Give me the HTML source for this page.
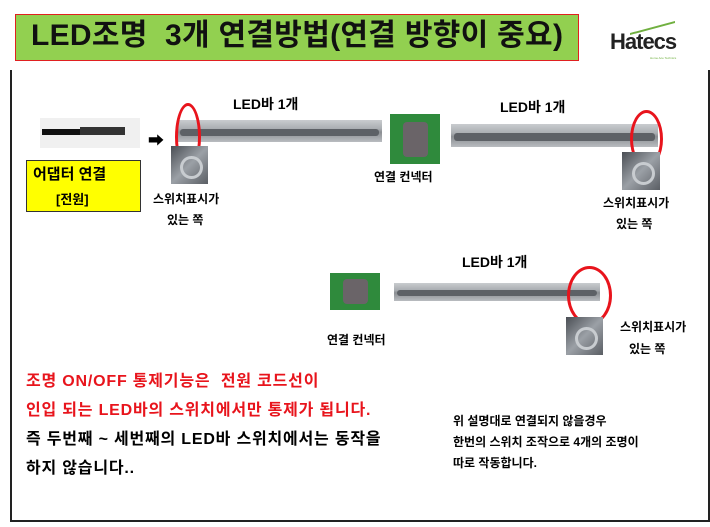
<!DOCTYPE html>
<html><head><meta charset="utf-8"><style>
body{margin:0;width:710px;height:527px;background:#fff;position:relative;overflow:hidden;font-family:"Liberation Sans","Noto Sans CJK KR",sans-serif;}
.a{position:absolute;}
.t{font-weight:bold;white-space:nowrap;}
.bar{position:absolute;background:linear-gradient(#c9cccf,#a9adb1 40%,#8a8e92 55%,#b9bcc0);}
.bar::after{content:"";position:absolute;left:3px;right:3px;top:40%;height:35%;background:#5d6166;border-radius:3px;}
.ell{position:absolute;border:3px solid #e8141c;border-radius:50%;}
.sw{position:absolute;background:linear-gradient(135deg,#4a4e54,#9ba0a6 50%,#5a5e64);}
.sw::after{content:"";position:absolute;left:25%;top:25%;width:45%;height:45%;border:3px solid #c8ccd0;border-radius:50%;}
.con{position:absolute;background:#2f8a3c;}
.con::after{content:"";position:absolute;left:25%;top:15%;width:50%;height:70%;background:#6a6468;border-radius:4px;}
</style></head><body>
<div class="a" style="left:15px;top:14px;width:562px;height:45px;background:#92d050;border:1px solid #e02020;"></div>
<div class="a t" style="left:31px;top:17px;font-size:30px;line-height:38px;color:#111;letter-spacing:0.3px;">LED조명&nbsp; 3개 연결방법(연결 방향이 중요)</div>
<div class="a" style="left:610px;top:29px;font-size:22px;font-weight:bold;color:#222;letter-spacing:-1px;">Hatecs</div>
<div class="a" style="left:630px;top:27px;width:45px;height:10px;border-top:2px solid #70b040;transform:skewY(-15deg);"></div>
<div class="a" style="left:650px;top:56px;font-size:3px;color:#70b040;">Home Ace Technics</div>
<div class="a" style="left:10px;top:70px;width:696px;height:450px;border:2px solid #222;border-top:none;"></div>

<div class="a" style="left:40px;top:118px;width:100px;height:30px;background:#f0f0f0;"></div>
<div class="a" style="left:42px;top:129px;width:40px;height:6px;background:#111;"></div>
<div class="a" style="left:80px;top:127px;width:45px;height:8px;background:#333;"></div>
<div class="a" style="left:148px;top:127px;font-size:16px;">➡</div>
<div class="bar" style="left:177px;top:120px;width:205px;height:22px;"></div>
<div class="ell" style="left:175px;top:103px;width:20px;height:62px;"></div>
<div class="sw" style="left:171px;top:146px;width:37px;height:38px;"></div>
<div class="a t" style="left:233px;top:94px;font-size:14px;">LED바 1개</div>
<div class="a" style="left:26px;top:160px;width:113px;height:50px;background:#ff0;border:1px solid #333;"></div>
<div class="a t" style="left:33px;top:163px;font-size:15px;">어댑터 연결</div>
<div class="a t" style="left:56px;top:189px;font-size:13px;">[전원]</div>
<div class="a t" style="left:153px;top:190px;font-size:12px;">스위치표시가</div>
<div class="a t" style="left:167px;top:211px;font-size:12px;">있는 쪽</div>

<div class="con" style="left:390px;top:114px;width:50px;height:50px;"></div>
<div class="a t" style="left:374px;top:168px;font-size:12px;">연결 컨넥터</div>
<div class="bar" style="left:451px;top:124px;width:207px;height:23px;"></div>
<div class="a t" style="left:500px;top:97px;font-size:14px;">LED바 1개</div>
<div class="ell" style="left:630px;top:110px;width:27px;height:52px;"></div>
<div class="sw" style="left:622px;top:152px;width:38px;height:38px;"></div>
<div class="a t" style="left:603px;top:194px;font-size:12px;">스위치표시가</div>
<div class="a t" style="left:616px;top:215px;font-size:12px;">있는 쪽</div>

<div class="con" style="left:330px;top:273px;width:50px;height:37px;"></div>
<div class="bar" style="left:394px;top:283px;width:206px;height:18px;"></div>
<div class="a t" style="left:462px;top:252px;font-size:14px;">LED바 1개</div>
<div class="ell" style="left:567px;top:266px;width:39px;height:53px;"></div>
<div class="sw" style="left:566px;top:317px;width:37px;height:38px;"></div>
<div class="a t" style="left:327px;top:331px;font-size:12px;">연결 컨넥터</div>
<div class="a t" style="left:620px;top:318px;font-size:12px;">스위치표시가</div>
<div class="a t" style="left:629px;top:340px;font-size:12px;">있는 쪽</div>

<div class="a t" style="left:26px;top:367px;font-size:16px;letter-spacing:0.8px;color:#e8141c;">조명 ON/OFF 통제기능은&nbsp; 전원 코드선이</div>
<div class="a t" style="left:26px;top:396px;font-size:16px;letter-spacing:0.8px;color:#e8141c;">인입 되는 LED바의 스위치에서만 통제가 됩니다.</div>
<div class="a t" style="left:26px;top:425px;font-size:16px;letter-spacing:0.8px;">즉 두번째 ~ 세번째의 LED바 스위치에서는 동작을</div>
<div class="a t" style="left:26px;top:454px;font-size:16px;letter-spacing:0.8px;">하지 않습니다..</div>
<div class="a t" style="left:453px;top:412px;font-size:12px;">위 설명대로 연결되지 않을경우</div>
<div class="a t" style="left:453px;top:433px;font-size:12px;">한번의 스위치 조작으로 4개의 조명이</div>
<div class="a t" style="left:453px;top:454px;font-size:12px;">따로 작동합니다.</div>
</body></html>
